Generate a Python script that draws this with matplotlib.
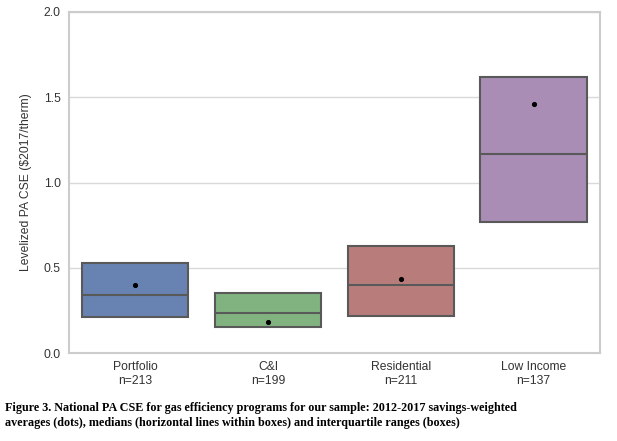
import matplotlib
matplotlib.use("Agg")
import matplotlib.pyplot as plt

# Program categories and sample sizes
categories = ["Portfolio", "C&I", "Residential", "Low Income"]
counts = [213, 199, 211, 137]

# Interquartile ranges, medians and savings-weighted averages ($2017/therm)
q1 = [0.21, 0.15, 0.215, 0.77]
q3 = [0.53, 0.35, 0.63, 1.62]
medians = [0.34, 0.235, 0.40, 1.165]
means = [0.40, 0.18, 0.435, 1.46]

colors = ["#6883b2", "#80b37f", "#b87d7b", "#a98db5"]

plt.rcParams["font.family"] = ["Liberation Sans", "DejaVu Sans"]

fig = plt.figure(figsize=(6.17, 4.41), dpi=100)
ax = fig.add_axes([0.1118, 0.1995, 0.8606, 0.7733])

stats = []
for i, cat in enumerate(categories):
    stats.append({
        "label": f"{cat}\nn={counts[i]}",
        "q1": q1[i], "q3": q3[i], "med": medians[i], "mean": means[i],
        "whislo": q1[i], "whishi": q3[i], "fliers": [],
    })

bp = ax.bxp(stats, positions=range(len(categories)), widths=0.8,
            patch_artist=True, showmeans=True, showcaps=False,
            showfliers=False,
            boxprops=dict(edgecolor="#595959", linewidth=1.5),
            medianprops=dict(color="#595959", linewidth=1.5),
            whiskerprops=dict(linewidth=0),
            meanprops=dict(marker="o", markerfacecolor="black",
                           markeredgecolor="black", markersize=2.7))
for patch, c in zip(bp["boxes"], colors):
    patch.set_facecolor(c)
    patch.set_zorder(2)

ax.set_xlim(-0.5, 3.5)
ax.set_ylim(0, 2.0)
ax.set_yticks([0.0, 0.5, 1.0, 1.5, 2.0])
ax.set_yticklabels(["0.0", "0.5", "1.0", "1.5", "2.0"])
ax.yaxis.grid(True, color="#d9d9d9", linewidth=1.0, zorder=0)
ax.set_axisbelow(True)
ax.tick_params(axis="both", length=0, labelsize=8.7, labelcolor="#333333", pad=6)
for s in ax.spines.values():
    s.set_color("#cccccc")
    s.set_linewidth(1.5)
ax.set_ylabel("Levelized PA CSE ($2017/therm)", fontsize=8.7, color="#333333", labelpad=8)

fig.text(0.008, 0.058, "Figure 3. National PA CSE for gas efficiency programs for our sample: 2012-2017 savings-weighted\n"
         "averages (dots), medians (horizontal lines within boxes) and interquartile ranges (boxes)",
         family=["Liberation Serif", "DejaVu Serif"], weight="bold", fontsize=8.75,
         va="center", ha="left", linespacing=1.4)

fig.savefig("out.png", dpi=100)
